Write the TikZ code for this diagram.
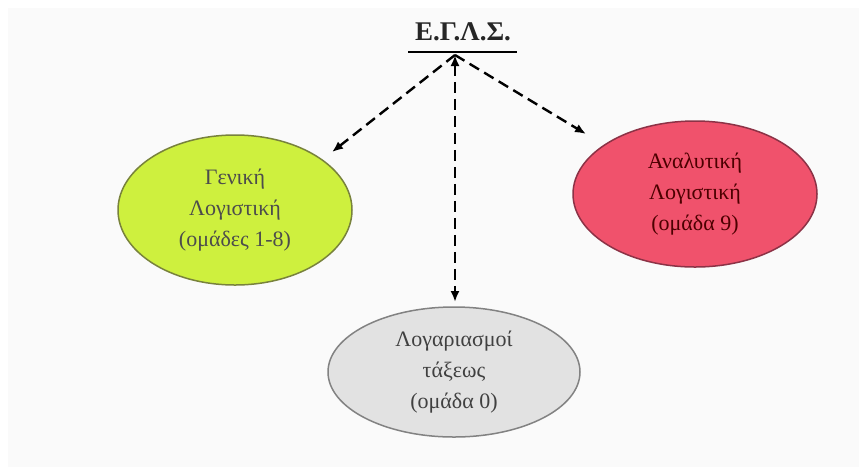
\documentclass[tikz,border=0pt]{standalone}
\usepackage{fontspec}
\setmainfont{Liberation Serif}
\usetikzlibrary{arrows.meta,shapes.geometric}
\definecolor{bg}{RGB}{250,250,250}
\definecolor{greenfill}{RGB}{206,240,62}
\definecolor{greendraw}{RGB}{120,130,60}
\definecolor{redfill}{RGB}{240,82,108}
\definecolor{reddraw}{RGB}{140,50,70}
\definecolor{greyfill}{RGB}{226,226,226}
\definecolor{greydraw}{RGB}{130,130,130}
\tikzset{
  oval/.style={ellipse, draw, line width=1.5pt, align=center, inner sep=0pt, font=\fontsize{22}{31}\selectfont},
  tip/.style={Latex[length=11pt,width=9pt]},
  conn/.style={line width=2.4pt, dash pattern=on 11pt off 6pt, -{Latex[length=11pt,width=9pt]}},
}
\begin{document}
\begin{tikzpicture}[x=1pt,y=-1pt]
\useasboundingbox (0,0) rectangle (859,467);
\fill[white] (0,0) rectangle (859,467);
\fill[bg] (8,8) rectangle (859,467);
\node[inner sep=0pt, font=\bfseries\fontsize{27}{27}\selectfont, text=black!85] (title) at (463,32) {Ε.Γ.Λ.Σ.};
\draw[line width=2.5pt] (408,52) -- (517,52);
\coordinate (hub) at (455,55);
\node[oval, fill=greenfill, draw=greendraw, minimum width=234pt, minimum height=150pt, text=black!70] (gen) at (235,210) {Γενική\\Λογιστική\\(ομάδες 1-8)};
\node[oval, fill=redfill, draw=reddraw, minimum width=244pt, minimum height=146pt, text=black!70!red] (ana) at (695,194) {Αναλυτική\\Λογιστική\\(ομάδα 9)};
\node[oval, fill=greyfill, draw=greydraw, minimum width=252pt, minimum height=130pt, text=black!75] (log) at (454,372) {Λογαριασμοί\\τάξεως\\(ομάδα 0)};
\coordinate (gend) at (332,152);
\coordinate (aend) at (586,134);
\coordinate (lend) at (455,302);
\draw[conn] (hub) -- (gend);
\draw[conn] (hub) -- (aend);
\draw[conn, {Latex[length=11pt,width=9pt]}-{Latex[length=11pt,width=9pt]}] (hub) -- (lend);
\end{tikzpicture}
\end{document}
